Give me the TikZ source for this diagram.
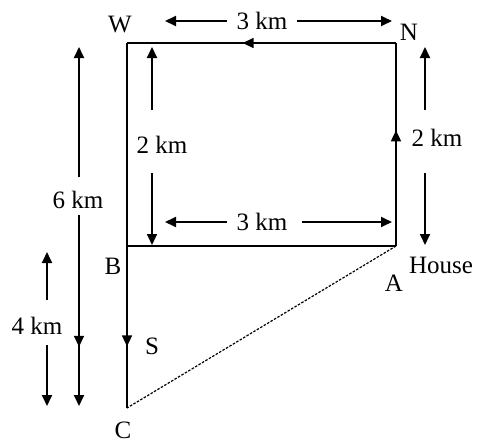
\documentclass[tikz,border=0pt]{standalone}
\usepackage{fontspec}
\setmainfont{Liberation Serif}
\usetikzlibrary{arrows.meta,decorations.markings}
\begin{document}
\begin{tikzpicture}[x=1pt,y=-1pt,
  lbl/.style={inner sep=0pt,font=\fontsize{25}{30}\selectfont},
  edge/.style={line width=1.4pt},
  dim/.style={line width=1.8pt,-{Triangle[length=11pt,width=10pt]}},
  midarrow/.style={postaction={decorate},decoration={markings,
     mark=at position #1 with {\arrow{Triangle[length=11pt,width=10pt]}}}}]
\useasboundingbox (0,0) rectangle (477,445);
% corners
\coordinate (W) at (127,43);
\coordinate (N) at (396,43);
\coordinate (B) at (127,246);
\coordinate (A) at (396,246);
\coordinate (C) at (127,408);
% main path
\draw[edge] (W) -- (B);
\draw[edge,midarrow=0.57] (N) -- (W);
\draw[edge,midarrow=0.57] (A) -- (N);
\draw[edge] (B) -- (A);
\draw[edge,midarrow=0.62] (B) -- (C);
\draw[line width=1.2pt,dash pattern=on 2.5pt off 1.5pt] (A) -- (C);
% point labels
\node[lbl] (lW) at (120,25) {W};
\node[lbl] (lN) at (409,32) {N};
\node[lbl] (lB) at (113,266) {B};
\node[lbl] (lA) at (394,283) {A};
\node[lbl] (lH) at (441,265) {House};
\node[lbl] (lS) at (152,346) {S};
\node[lbl] (lC) at (123,430) {C};
% top 3 km
\node[lbl] (t3) at (262,21) {3 km};
\coordinate (t3l0) at (227,21); \coordinate (t3l) at (165,21);
\coordinate (t3r0) at (297,21); \coordinate (t3r) at (392,21);
\draw[dim] (t3l0) -- (t3l);
\draw[dim] (t3r0) -- (t3r);
% bottom 3 km
\node[lbl] (b3) at (262,222) {3 km};
\coordinate (b3l0) at (227,222); \coordinate (b3l) at (165,222);
\coordinate (b3r0) at (302,222); \coordinate (b3r) at (392,222);
\draw[dim] (b3l0) -- (b3l);
\draw[dim] (b3r0) -- (b3r);
% inner 2 km
\node[lbl] (i2) at (162,145) {2 km};
\coordinate (i2u0) at (152,110); \coordinate (i2u) at (152,47);
\coordinate (i2d0) at (152,173); \coordinate (i2d) at (152,245);
\draw[dim] (i2u0) -- (i2u);
\draw[dim] (i2d0) -- (i2d);
% right 2 km
\node[lbl] (r2) at (437,138) {2 km};
\coordinate (r2u0) at (425,110); \coordinate (r2u) at (425,47);
\coordinate (r2d0) at (425,173); \coordinate (r2d) at (425,245);
\draw[dim] (r2u0) -- (r2u);
\draw[dim] (r2d0) -- (r2d);
% 6 km
\node[lbl] (s6) at (78,200) {6 km};
\coordinate (s6u0) at (79,177); \coordinate (s6u) at (79,47);
\coordinate (s6d0) at (79,215); \coordinate (s6d) at (79,406);
\draw[dim] (s6u0) -- (s6u);
\draw[dim,midarrow=0.69] (s6d0) -- (s6d);
% 4 km
\node[lbl] (f4) at (37,326) {4 km};
\coordinate (f4u0) at (47,300); \coordinate (f4u) at (47,252);
\coordinate (f4d0) at (47,345); \coordinate (f4d) at (47,406);
\draw[dim] (f4u0) -- (f4u);
\draw[dim] (f4d0) -- (f4d);
\end{tikzpicture}
\end{document}
